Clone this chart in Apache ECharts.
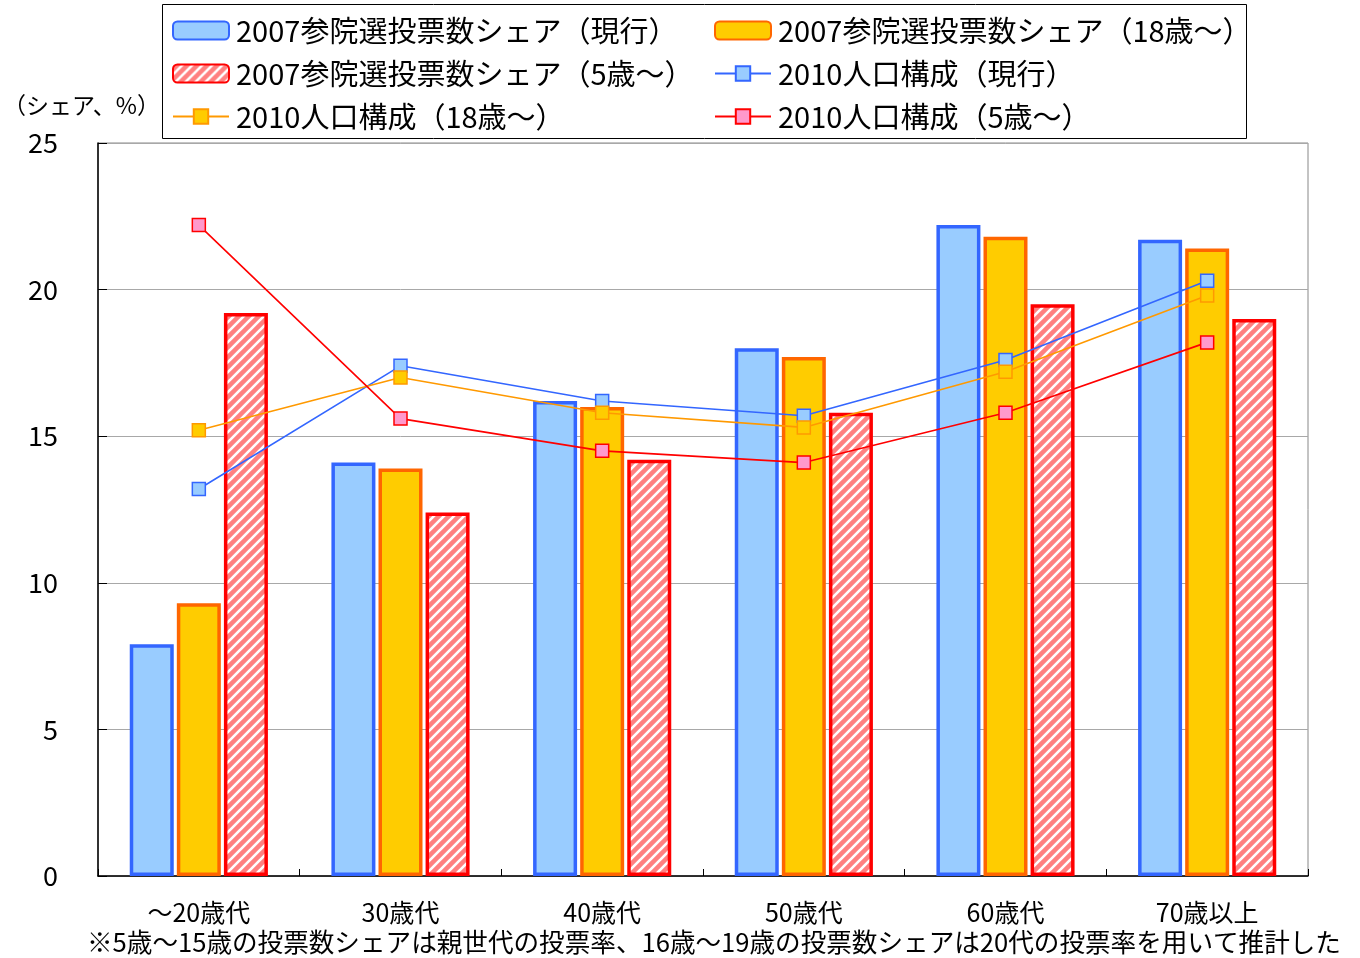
<!DOCTYPE html>
<html>
<head>
<meta charset="utf-8">
<script src="https://cdn.jsdelivr.net/npm/echarts@6/dist/echarts.min.js"></script>
<style>
  html, body { margin: 0; padding: 0; background: #fff; }
  #chart { width: 1360px; height: 958px; }
</style>
</head>
<body>
<div id="chart"></div>
<script>
// Age groups
const categories = ['～20歳代', '30歳代', '40歳代', '50歳代', '60歳代', '70歳以上'];

// 2007 House of Councillors vote share (%)
const voteCurrent = [7.9, 14.1, 16.2, 18.0, 22.2, 21.7];
const vote18 = [9.3, 13.9, 16.0, 17.7, 21.8, 21.4];
const vote5 = [19.2, 12.4, 14.2, 15.8, 19.5, 19.0];

// 2010 population composition (%)
const popCurrent = [13.2, 17.4, 16.2, 15.7, 17.6, 20.3];
const pop18 = [15.2, 17.0, 15.8, 15.3, 17.2, 19.8];
const pop5 = [22.2, 15.6, 14.5, 14.1, 15.8, 18.2];

const yTicks = [0, 5, 10, 15, 20, 25];

const seriesNames = [
  '2007参院選投票数シェア（現行）',
  '2007参院選投票数シェア（18歳～）',
  '2007参院選投票数シェア（5歳～）',
  '2010人口構成（現行）',
  '2010人口構成（18歳～）',
  '2010人口構成（5歳～）'
];

const FONT = '"Noto Sans CJK JP", "Noto Sans", sans-serif';

// diagonal hatch fill for the 5歳～ bars
function makeHatch() {
  const p = 10;
  const c = document.createElement('canvas');
  c.width = p; c.height = p;
  const g = c.getContext('2d');
  g.fillStyle = '#FF8080';
  g.fillRect(0, 0, p, p);
  g.strokeStyle = '#FFFFFF';
  g.lineWidth = 2.6;
  g.beginPath();
  g.moveTo(-2, p + 2); g.lineTo(p + 2, -2);
  g.moveTo(-2, 2); g.lineTo(2, -2);
  g.moveTo(p - 2, p + 2); g.lineTo(p + 2, p - 2);
  g.stroke();
  return c;
}
const hatch = makeHatch();

const chart = echarts.init(document.getElementById('chart'), null, { renderer: 'canvas' });

const legendCommon = {
  orient: 'vertical',
  padding: 0,
  itemWidth: 56,
  itemHeight: 18,
  itemGap: 12,
  selectedMode: false,
  textStyle: { fontFamily: FONT, fontSize: 29, color: '#000', lineHeight: 31, padding: [0, 0, 0, 2] }
};

function barSeries(name, data, fill, border) {
  return {
    name, type: 'bar', data,
    barWidth: 44,
    barGap: '7%',
    itemStyle: { color: fill, borderColor: border, borderWidth: 3.5 },
    z: 2
  };
}
function lineSeries(name, data, lineColor, markerFill) {
  return {
    name, type: 'line', data,
    symbol: 'rect', symbolSize: 13,
    lineStyle: { color: lineColor, width: 1.6 },
    itemStyle: { color: markerFill, borderColor: lineColor, borderWidth: 1.5 },
    z: 5
  };
}

chart.setOption({
  animation: false,
  backgroundColor: '#fff',
  textStyle: { fontFamily: FONT },
  grid: {
    left: 98, right: 52, top: 143, bottom: 82,
    show: true, borderColor: '#888', borderWidth: 1, containLabel: false
  },
  legend: [
    Object.assign({ left: 172, top: 15, data: [seriesNames[0], seriesNames[2], seriesNames[4]] }, legendCommon),
    Object.assign({ left: 714, top: 15, data: [seriesNames[1], seriesNames[3], seriesNames[5]] }, legendCommon)
  ],
  graphic: [
    { type: 'rect', left: 162, top: 4, z: -1,
      shape: { width: 1084, height: 134 },
      style: { fill: '#fff', stroke: '#000', lineWidth: 1 } },
    { type: 'text', left: 3, top: 94,
      style: { text: '（シェア、%）', font: '23px ' + FONT, fill: '#000' } },
    { type: 'text', left: 87, top: 929,
      style: { text: '※5歳～15歳の投票数シェアは親世代の投票率、16歳～19歳の投票数シェアは20代の投票率を用いて推計した',
               font: '25.6px ' + FONT, fill: '#000' } }
  ],
  xAxis: {
    type: 'category',
    data: categories,
    axisLine: { show: true, lineStyle: { color: '#000', width: 1.5 } },
    axisTick: { show: true, inside: true, length: 7, lineStyle: { color: '#000' } },
    axisLabel: { fontFamily: FONT, fontSize: 25, color: '#000', margin: 24 },
    splitLine: { show: false }
  },
  yAxis: {
    type: 'value',
    min: yTicks[0], max: yTicks[yTicks.length - 1], interval: 5,
    axisLine: { show: true, lineStyle: { color: '#000', width: 1.5 } },
    axisTick: { show: true, inside: true, length: 9, lineStyle: { color: '#000' } },
    axisLabel: { fontFamily: FONT, fontSize: 27, color: '#000', margin: 40 },
    splitLine: { show: true, lineStyle: { color: '#A8A8A8', width: 1 } }
  },
  series: [
    barSeries(seriesNames[0], voteCurrent, '#99CCFF', '#3366FF'),
    barSeries(seriesNames[1], vote18, '#FFCC00', '#FF6600'),
    barSeries(seriesNames[2], vote5, { image: hatch, repeat: 'repeat' }, '#FF0000'),
    lineSeries(seriesNames[3], popCurrent, '#3366FF', '#99CCFF'),
    lineSeries(seriesNames[4], pop18, '#FF9900', '#FFCC00'),
    lineSeries(seriesNames[5], pop5, '#FF0000', '#FF99CC')
  ]
});
</script>
</body>
</html>
